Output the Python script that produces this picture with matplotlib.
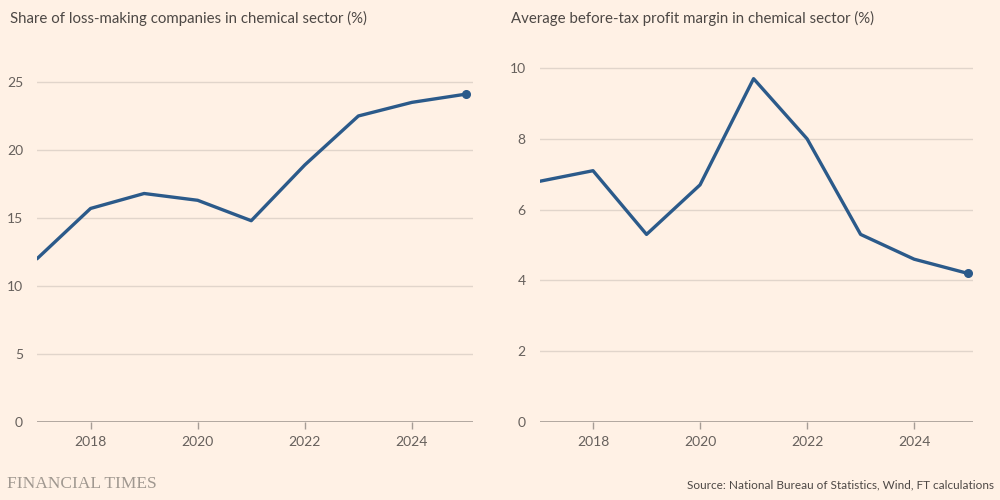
import matplotlib
matplotlib.use("Agg")
import matplotlib.pyplot as plt

years = [2017, 2018, 2019, 2020, 2021, 2022, 2023, 2024, 2025]
loss_share = [12.0, 15.7, 16.8, 16.3, 14.8, 18.9, 22.5, 23.5, 24.1]
profit_margin = [6.8, 7.1, 5.3, 6.7, 9.7, 8.0, 5.3, 4.6, 4.2]
xticks = [2018, 2020, 2022, 2024]
left_yticks = [0, 5, 10, 15, 20, 25]
right_yticks = [0, 2, 4, 6, 8, 10]
left_title = "Share of loss-making companies in chemical sector (%)"
right_title = "Average before-tax profit margin in chemical sector (%)"
source = "Source: National Bureau of Statistics, Wind, FT calculations"

BG = "#FFF1E5"
LINE = "#2B5A8A"
GRID = "#E1D5CB"
AXIS = "#A69C95"
TEXT = "#66605C"
TITLE = "#4D4845"

plt.rcParams['font.family'] = ['Lato', 'DejaVu Sans']

fig = plt.figure(figsize=(10, 5), dpi=100, facecolor=BG)

def panel(rect, values, yticks, ylim, xlim, title, title_x):
    ax = fig.add_axes(rect, facecolor=BG)
    ax.plot(years, values, color=LINE, lw=2.4, solid_capstyle='round', zorder=3)
    ax.plot([years[-1]], [values[-1]], 'o', color=LINE, ms=5.5, zorder=4)
    ax.set_xlim(*xlim)
    ax.set_ylim(*ylim)
    ax.set_yticks(yticks)
    ax.set_xticks(xticks)
    ax.set_xticklabels([str(x) for x in xticks])
    for s in ax.spines.values():
        s.set_visible(False)
    ax.grid(axis='y', color=GRID, lw=1, zorder=0)
    ax.axhline(0, color=AXIS, lw=1.2, zorder=2)
    ax.tick_params(axis='y', length=0, pad=10, labelsize=10, labelcolor=TEXT)
    ax.tick_params(axis='x', length=5, width=1, color=AXIS, pad=5,
                   labelsize=10, labelcolor=TEXT, direction='out')
    for lbl in ax.get_yticklabels():
        lbl.set_horizontalalignment('right')
    fig.text(title_x, 0.964, title, ha='left', va='center', fontsize=10.8, color=TITLE)
    return ax

panel([0.037, 0.156, 0.436, 0.744], loss_share, left_yticks, (0, 27.35),
      (2017, 2025.14), left_title, 0.01)
panel([0.5395, 0.156, 0.4335, 0.744], profit_margin, right_yticks, (0, 10.51),
      (2017, 2025.1), right_title, 0.511)

fig.text(0.007, 0.032, "FINANCIAL TIMES", ha='left', va='center', fontsize=12.5,
         color="#A09890", family=['Liberation Serif', 'DejaVu Serif'])
fig.text(0.994, 0.03, source, ha='right', va='center', fontsize=8.5, color="#4D4845")

fig.savefig("out.png", dpi=100, facecolor=BG)
